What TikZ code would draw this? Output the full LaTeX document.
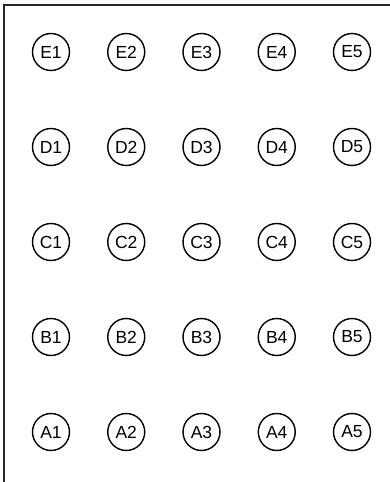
\documentclass[tikz,border=0pt]{standalone}
\usepackage{fontspec}
\setmainfont{Liberation Sans}
\usetikzlibrary{positioning}

\begin{document}
\begin{tikzpicture}[
        x=1pt, y=1pt,
        cell/.style={circle, draw=black, line width=1.4pt, minimum size=37pt, inner sep=0pt, font=\fontsize{17.5}{20}\selectfont},
        frame/.style={draw=black!85, line width=1.6pt}
    ]
        \useasboundingbox (0,0) rectangle (390,482);
        % open frame: left and top edges only
        \coordinate (corner) at (4,477);
        \coordinate (topend) at (391,477);
        \coordinate (bottomend) at (4,-1);
        \draw[frame] (bottomend) -- (corner) -- (topend);

        % grid of cells, row A at the bottom
        \foreach \row [count=\i from 0] in {A,B,C,D,E}
            \foreach \col in {1,...,5}
                \node[cell] (\row\col) at ({51+75.25*(\col-1)}, {50+95*\i}) {\row\col};
    \end{tikzpicture}
\end{document}
